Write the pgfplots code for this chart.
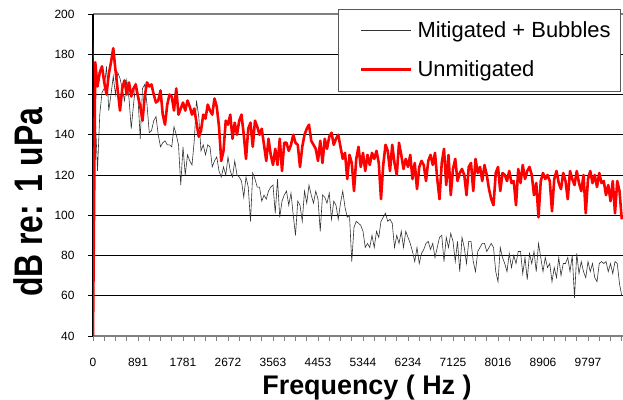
\documentclass[border=0pt]{standalone}
\usepackage{pgfplots}
\pgfplotsset{compat=1.18}
\usepackage{fontspec}
\setmainfont{Liberation Sans}
\begin{document}
\begin{tikzpicture}
\begin{axis}[
  at={(93bp,64bp)}, anchor=south west,
  scale only axis, width=531bp, height=322bp,
  xmin=0, xmax=236, ymin=40, ymax=200,
  separate axis lines,
  x axis line style={draw=gray, line width=1.6bp},
  y axis line style={draw=black, line width=1.2bp},
  tick pos=left, tick align=outside,
  major tick length=5bp, minor tick length=5bp,
  xtick={0,20,...,220},
  xticklabels={0,891,1781,2672,3563,4453,5344,6234,7125,8016,8906,9797},
  minor xtick={5,10,...,235},
  xtick style={draw=gray, line width=0.8bp},
  ytick={60,80,...,180},
  extra y ticks={40,200},
  extra y tick style={grid=none},
  ytick style={draw=black, line width=0.8bp},
  ymajorgrids,
  major grid style={draw=black, line width=0.8bp},
  /pgf/number format/assume math mode=true,
  ticklabel style={font=\fontsize{12}{14}\selectfont},
  xticklabel style={yshift=-14bp},
  yticklabel style={xshift=-10bp},
  xlabel={Frequency ( Hz )},
  xlabel style={at={(axis description cs:0.516,-0.1832)}, anchor=base, font=\bfseries\fontsize{27}{31}\selectfont},
  ylabel={\scalebox{0.80}[1]{dB re: 1 uPa}},
  ylabel style={at={(axis description cs:-0.1215,0.415)}, anchor=center, font=\bfseries\fontsize{40}{46}\selectfont},
  legend style={at={(axis description cs:0.4614,1.0155)}, anchor=north west,
    draw=gray!70!black, fill=white,
    font=\fontsize{22}{26}\selectfont,
    inner xsep=8bp, inner ysep=10.5bp, row sep=18bp, column sep=3bp,
    nodes={inner sep=2bp}},
  legend cell align=left,
  legend image code/.code={\path[draw=none,fill=none] (0bp,-2bp) rectangle (65bp,2bp); \draw[#1,fill=none] (15bp,0bp) -- (65bp,0bp);},
]
\addplot[draw=black!80, line width=0.6bp, mark=none] coordinates {
(0,187)(1,150)(2,122)(3,150)(4,161)(5,163)(6,174)(7,152)(8,160)(9,169)
(10,160)(11,171)(12,168)(13,163)(14,157)(15,167)(16,158)(17,143)(18,155)(19,165)
(20,158)(21,138)(22,163)(23,165)(24,155)(25,141)(26,142)(27,147)(28,149)(29,140)
(30,134)(31,136)(32,137)(33,135)(34,135)(35,134)(36,144)(37,140)(38,135)(39,115)
(40,134)(41,120)(42,130)(43,127)(44,125)(45,137)(46,157)(47,149)(48,132)(49,135)
(50,130)(51,135)(52,134)(53,124)(54,127)(55,129)(56,122)(57,119)(58,124)(59,120)
(60,129)(61,122)(62,119)(63,127)(64,120)(65,119)(66,117)(67,109)(68,119)(69,114)
(70,97)(71,121)(72,118)(73,114)(74,114)(75,107)(76,110)(77,108)(78,112)(79,114)
(80,115)(81,101)(82,118)(83,99)(84,107)(85,110)(86,112)(87,105)(88,111)(89,100)
(90,90)(91,107)(92,105)(93,97)(94,112)(95,106)(96,115)(97,110)(98,106)(99,112)
(100,108)(101,92)(102,110)(103,109)(104,106)(105,111)(106,98)(107,107)(108,105)(109,98)
(110,106)(111,112)(112,104)(113,99)(114,100)(115,77)(116,94)(117,97)(118,96)(119,95)
(120,92)(121,84)(122,86)(123,84)(124,90)(125,84)(126,92)(127,89)(128,97)(129,99)
(130,101)(131,97)(132,98)(133,96)(134,84)(135,90)(136,86)(137,92)(138,84)(139,92)
(140,89)(141,86)(142,82)(143,77)(144,84)(145,76)(146,81)(147,83)(148,86)(149,87)
(150,83)(151,86)(152,79)(153,84)(154,89)(155,90)(156,77)(157,89)(158,84)(159,91)
(160,87)(161,77)(162,87)(163,72)(164,89)(165,84)(166,76)(167,87)(168,87)(169,77)
(170,72)(171,82)(172,84)(173,86)(174,86)(175,82)(176,84)(177,86)(178,84)(179,72)
(180,67)(181,84)(182,79)(183,76)(184,72)(185,81)(186,74)(187,80)(188,76)(189,82)
(190,82)(191,71)(192,79)(193,68)(194,81)(195,76)(196,82)(197,72)(198,86)(199,79)
(200,72)(201,79)(202,74)(203,76)(204,67)(205,74)(206,69)(207,79)(208,70)(209,76)
(210,76)(211,79)(212,72)(213,80)(214,59)(215,81)(216,71)(217,77)(218,72)(219,69)
(220,77)(221,72)(222,76)(223,69)(224,67)(225,76)(226,77)(227,76)(228,77)(229,72)
(230,76)(231,71)(232,77)(233,76)(234,66)(235,60)
};
\addlegendentry{Mitigated + Bubbles}
\addplot[draw=red, line width=2.6bp, line join=round, mark=none] coordinates {
(0,40)(1,176)(2,164)(3,171)(4,174)(5,166)(6,160)(7,170)(8,176)(9,183)
(10,172)(11,162)(12,152)(13,163)(14,167)(15,160)(16,166)(17,159)(18,163)(19,165)
(20,159)(21,154)(22,147)(23,159)(24,166)(25,164)(26,165)(27,160)(28,156)(29,157)
(30,162)(31,150)(32,145)(33,155)(34,160)(35,159)(36,152)(37,163)(38,150)(39,153)
(40,156)(41,152)(42,157)(43,154)(44,150)(45,153)(46,146)(47,139)(48,142)(49,150)
(50,148)(51,155)(52,152)(53,150)(54,158)(55,154)(56,144)(57,127)(58,132)(59,147)
(60,145)(61,150)(62,138)(63,146)(64,140)(65,147)(66,150)(67,140)(68,128)(69,143)
(70,146)(71,134)(72,147)(73,144)(74,140)(75,143)(76,135)(77,127)(78,138)(79,130)
(80,125)(81,133)(82,125)(83,138)(84,122)(85,136)(86,136)(87,132)(88,135)(89,140)
(90,136)(91,135)(92,124)(93,134)(94,140)(95,143)(96,145)(97,137)(98,135)(99,133)
(100,127)(101,137)(102,126)(103,138)(104,133)(105,139)(106,141)(107,135)(108,138)(109,140)
(110,134)(111,128)(112,131)(113,118)(114,130)(115,126)(116,112)(117,128)(118,134)(119,124)
(120,131)(121,122)(122,130)(123,125)(124,131)(125,128)(126,132)(127,126)(128,108)(129,125)
(130,135)(131,132)(132,122)(133,135)(134,126)(135,120)(136,136)(137,130)(138,123)(139,128)
(140,124)(141,130)(142,118)(143,126)(144,113)(145,124)(146,127)(147,125)(148,117)(149,127)
(150,130)(151,125)(152,131)(153,118)(154,108)(155,126)(156,133)(157,115)(158,130)(159,110)
(160,123)(161,128)(162,117)(163,121)(164,123)(165,120)(166,110)(167,124)(168,126)(169,112)
(170,128)(171,121)(172,124)(173,117)(174,125)(175,120)(176,113)(177,108)(178,105)(179,121)
(180,124)(181,112)(182,121)(183,120)(184,117)(185,122)(186,116)(187,117)(188,105)(189,123)
(190,116)(191,125)(192,118)(193,122)(194,124)(195,120)(196,110)(197,116)(198,99)(199,117)
(200,121)(201,118)(202,120)(203,117)(204,102)(205,118)(206,122)(207,116)(208,113)(209,121)
(210,117)(211,108)(212,122)(213,118)(214,115)(215,122)(216,116)(217,112)(218,120)(219,101)
(220,118)(221,122)(222,116)(223,120)(224,114)(225,121)(226,116)(227,117)(228,110)(229,115)
(230,107)(231,117)(232,101)(233,117)(234,112)(235,98)
};
\addlegendentry{Unmitigated}
\end{axis}
\pgfresetboundingbox
\path (0,0) rectangle (623bp,400bp);
\end{tikzpicture}
\end{document}
